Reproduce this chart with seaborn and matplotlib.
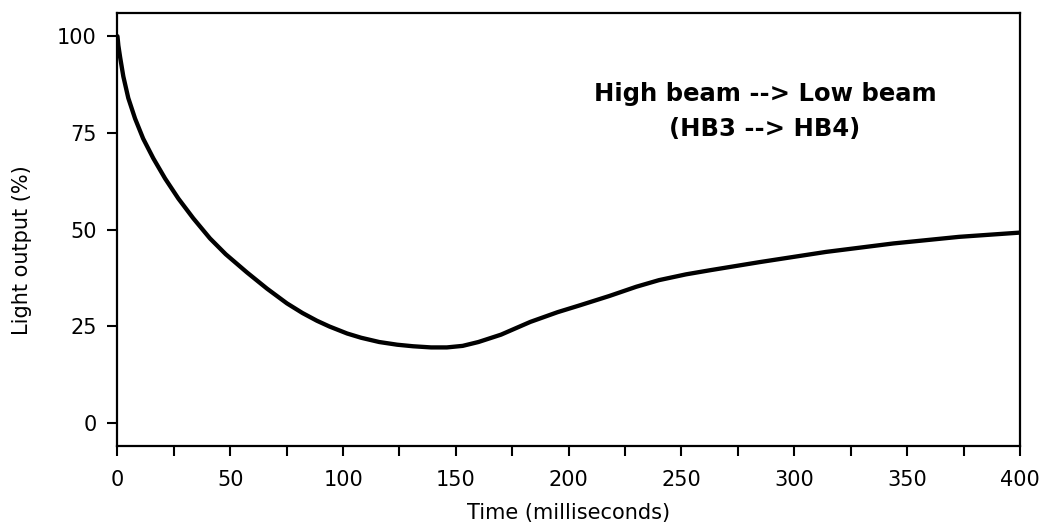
import matplotlib
matplotlib.use('Agg')
import matplotlib.pyplot as plt
import pandas as pd
import seaborn as sns

# Values
time_ms = [0, 0.4, 1.2, 2.6, 4.8, 7.8, 11.4, 15.9, 21.1, 27, 33.6, 41, 48, 57.4,
           66.3, 75.1, 82, 88.4, 94, 101.8, 108, 116, 124, 131, 139, 146, 153,
           160, 170, 183, 195, 205, 218, 230, 240, 252, 263, 285, 314, 344, 373, 400]
light_pct = [100, 97.6, 94.5, 89.6, 84.0, 78.7, 73.5, 68.4, 63.2, 58.0, 52.9, 47.7,
             43.6, 38.9, 34.7, 30.9, 28.4, 26.4, 24.9, 23.1, 22.0, 20.9, 20.2, 19.8,
             19.5, 19.5, 19.9, 20.9, 22.8, 26.1, 28.6, 30.4, 32.8, 35.2, 36.9, 38.4,
             39.5, 41.6, 44.2, 46.4, 48.1, 49.2]
x_ticks = [0, 50, 100, 150, 200, 250, 300, 350, 400]
y_ticks = [0, 25, 50, 75, 100]

df = pd.DataFrame({'Time (milliseconds)': time_ms, 'Light output (%)': light_pct})

sns.set_style('ticks')
plt.rcParams['font.family'] = ['DejaVu Sans']
plt.rcParams['text.color'] = 'black'
plt.rcParams['axes.labelcolor'] = 'black'
plt.rcParams['xtick.color'] = 'black'
plt.rcParams['ytick.color'] = 'black'

fig = plt.figure(figsize=(10.45, 5.27), dpi=100)
ax = fig.add_axes([0.1124, 0.1537, 0.976 - 0.1124, 0.9753 - 0.1537])

sns.lineplot(data=df, x='Time (milliseconds)', y='Light output (%)', ax=ax,
             color='black', linewidth=3.1)

ax.set_xlim(0, 400)
ax.set_ylim(-6, 106)
ax.set_xticks(x_ticks)
ax.set_xticks(range(25, 400, 50), minor=True)
ax.set_yticks(y_ticks)
ax.tick_params(which='both', direction='out', length=7, width=1.5, labelsize=15)
ax.tick_params(axis='x', pad=10)
ax.tick_params(axis='y', pad=8)
for s in ax.spines.values():
    s.set_linewidth(1.6)
    s.set_color('black')
ax.set_xlabel('Time (milliseconds)', fontsize=15, va='center')
ax.set_ylabel('Light output (%)', fontsize=15, va='center')
ax.xaxis.set_label_coords(0.5, -0.155)
ax.yaxis.set_label_coords(-0.106, 0.453)

ax.text(287, 80.6, 'High beam --> Low beam\n(HB3 --> HB4)', ha='center', va='center',
        fontsize=17.5, fontweight='bold', linespacing=1.6)

fig.savefig('out.png', dpi=100)
